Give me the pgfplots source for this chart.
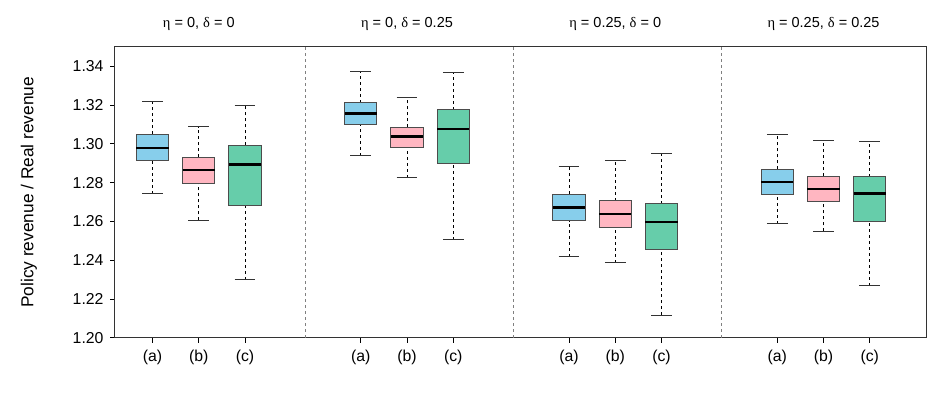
\documentclass[border=0pt]{standalone}
\usepackage{fontspec}
\setmainfont{Liberation Sans}
\newfontfamily\greek{Liberation Serif}
\usepackage{pgfplots}
\pgfplotsset{compat=1.18}
\usepgfplotslibrary{statistics}

\definecolor{boxa}{HTML}{87CEEB}
\definecolor{boxb}{HTML}{FFB6C1}
\definecolor{boxc}{HTML}{66CDAA}
\definecolor{sepgray}{HTML}{808080}

% R-style box: dashed whisker, solid cap, thick black median
\pgfplotsset{
  rbox/.style={
    boxplot/draw direction=y,
    boxplot/box extend=0.7,
    boxplot/whisker extend=0.45,
    boxplot/every box/.style={draw=black!70, line width=1pt},
    boxplot/every median/.style={black, line width=2.4pt},
    boxplot/draw/lower whisker/.code={
      \draw[black, line width=0.8pt, dash pattern=on 3pt off 3pt, fill=none]
        (boxplot box cs:\pgfplotsboxplotvalue{lower whisker},0.5) --
        (boxplot box cs:\pgfplotsboxplotvalue{lower quartile},0.5);
      \draw[black!80, line width=0.9pt, fill=none]
        (boxplot whisker cs:\pgfplotsboxplotvalue{lower whisker},0) --
        (boxplot whisker cs:\pgfplotsboxplotvalue{lower whisker},1);
    },
    boxplot/draw/upper whisker/.code={
      \draw[black, line width=0.8pt, dash pattern=on 3pt off 3pt, fill=none]
        (boxplot box cs:\pgfplotsboxplotvalue{upper quartile},0.5) --
        (boxplot box cs:\pgfplotsboxplotvalue{upper whisker},0.5);
      \draw[black!80, line width=0.9pt, fill=none]
        (boxplot whisker cs:\pgfplotsboxplotvalue{upper whisker},0) --
        (boxplot whisker cs:\pgfplotsboxplotvalue{upper whisker},1);
    },
  },
}

\newcommand{\bp}[7]{%
  \addplot[rbox, fill=#1, boxplot prepared={draw position=#2,
    lower whisker=#3, lower quartile=#4, median=#5,
    upper quartile=#6, upper whisker=#7}] coordinates {};
}

\begin{document}
\begin{tikzpicture}
\useasboundingbox (-115pt,-68.3pt) rectangle (832pt,337.7pt);
\begin{axis}[
    at={(0,0)}, anchor=south west,
    scale only axis,
    width=811.7pt, height=290.7pt,
    xmin=0.19, xmax=17.73,
    ymin=1.20, ymax=1.35,
    clip=false,
    tick pos=left,
    tick align=outside,
    major tick length=5pt,
    axis line style={black!80, line width=1pt},
    tick style={black, line width=0.8pt},
    xtick={1,2,3,5.5,6.5,7.5,10,11,12,14.5,15.5,16.5},
    xticklabels={(a),(b),(c),(a),(b),(c),(a),(b),(c),(a),(b),(c)},
    ytick={1.20,1.22,...,1.34},
    ticklabel style={font=\fontsize{15.8}{18}\selectfont},
    xticklabel style={yshift=-4pt},
    yticklabel style={xshift=-3pt},
    /pgf/number format/fixed,
    /pgf/number format/fixed zerofill,
    /pgf/number format/precision=2,
    /pgf/number format/assume math mode=true,
    ylabel={Policy revenue / Real revenue},
    ylabel style={font=\fontsize{17.3}{20}\selectfont, at={(axis description cs:-0.106,0.5)}, anchor=center},
]
% separators between the four settings
\draw[sepgray, line width=0.8pt, dash pattern=on 3pt off 3pt] (axis cs:4.3,1.20) -- (axis cs:4.3,1.35);
\draw[sepgray, line width=0.8pt, dash pattern=on 3pt off 3pt] (axis cs:8.8,1.20) -- (axis cs:8.8,1.35);
\draw[sepgray, line width=0.8pt, dash pattern=on 3pt off 3pt] (axis cs:13.3,1.20) -- (axis cs:13.3,1.35);

% eta = 0, delta = 0
\bp{boxa}{1}{1.2742}{1.2916}{1.2980}{1.3051}{1.3218}
\bp{boxb}{2}{1.2606}{1.2796}{1.2865}{1.2932}{1.3089}
\bp{boxc}{3}{1.2300}{1.2682}{1.2894}{1.2992}{1.3197}
% eta = 0, delta = 0.25
\bp{boxa}{5.5}{1.2940}{1.3100}{1.3157}{1.3212}{1.3373}
\bp{boxb}{6.5}{1.2825}{1.2982}{1.3038}{1.3085}{1.3238}
\bp{boxc}{7.5}{1.2506}{1.2897}{1.3078}{1.3175}{1.3367}
% eta = 0.25, delta = 0
\bp{boxa}{10}{1.2417}{1.2603}{1.2672}{1.2741}{1.2883}
\bp{boxb}{11}{1.2386}{1.2568}{1.2639}{1.2706}{1.2914}
\bp{boxc}{12}{1.2117}{1.2455}{1.2598}{1.2691}{1.2949}
% eta = 0.25, delta = 0.25
\bp{boxa}{14.5}{1.2587}{1.2737}{1.2803}{1.2868}{1.3047}
\bp{boxb}{15.5}{1.2548}{1.2701}{1.2768}{1.2834}{1.3016}
\bp{boxc}{16.5}{1.2269}{1.2599}{1.2744}{1.2830}{1.3011}

\node[font=\fontsize{14.5}{17}\selectfont] at (axis cs:2,1.3617) {{\greek η} = 0, {\greek δ} = 0};
\node[font=\fontsize{14.5}{17}\selectfont] at (axis cs:6.5,1.3617) {{\greek η} = 0, {\greek δ} = 0.25};
\node[font=\fontsize{14.5}{17}\selectfont] at (axis cs:11,1.3617) {{\greek η} = 0.25, {\greek δ} = 0};
\node[font=\fontsize{14.5}{17}\selectfont] at (axis cs:15.5,1.3617) {{\greek η} = 0.25, {\greek δ} = 0.25};
\end{axis}
\end{tikzpicture}
\end{document}
